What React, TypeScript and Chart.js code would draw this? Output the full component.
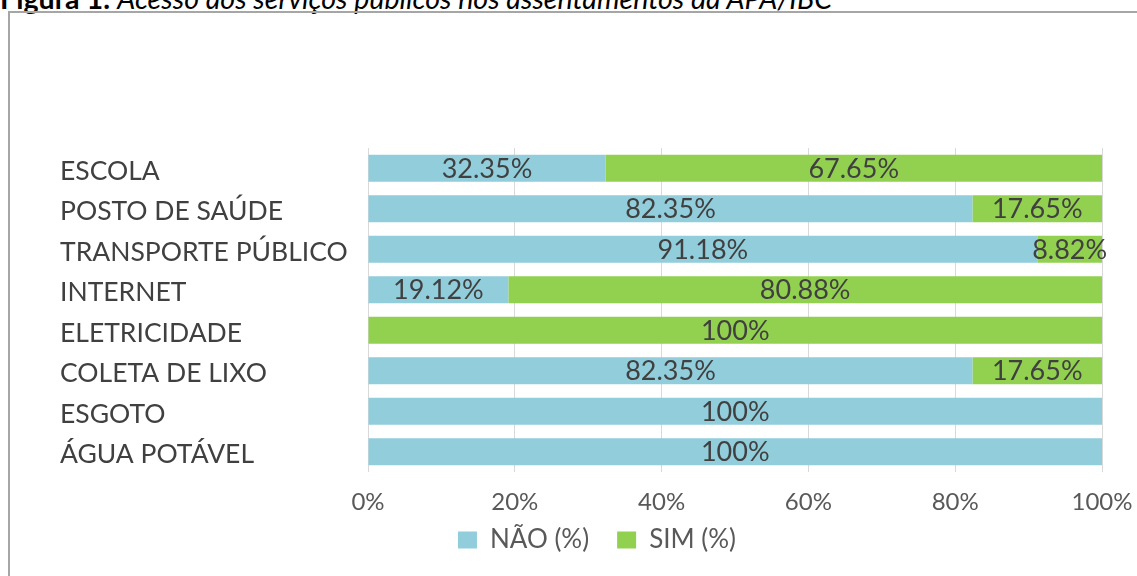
import React, { useEffect, useRef } from "react";
import { Chart, registerables } from "chart.js";

Chart.register(...registerables);

const categories = [
  "ESCOLA",
  "POSTO DE SAÚDE",
  "TRANSPORTE PÚBLICO",
  "INTERNET",
  "ELETRICIDADE",
  "COLETA DE LIXO",
  "ESGOTO",
  "ÁGUA POTÁVEL",
];
const naoValues = [32.35, 82.35, 91.18, 19.12, 0, 82.35, 100, 100];
const simValues = [67.65, 17.65, 8.82, 80.88, 100, 17.65, 0, 0];
const seriesNames = ["NÃO (%)", "SIM (%)"];
const xTicks = [0, 20, 40, 60, 80, 100];

const FONT = "Lato, 'Open Sans', sans-serif";
const CANVAS_W = 1127;
const CANVAS_H = 575;

const fmt = (v: number) => (Number.isInteger(v) ? `${v}%` : `${v.toFixed(2)}%`);

const dataLabelPlugin = {
  id: "segLabels",
  afterDatasetsDraw(chart: any) {
    const ctx = chart.ctx;
    ctx.save();
    ctx.font = `27px ${FONT}`;
    ctx.fillStyle = "#404040";
    ctx.textAlign = "center";
    ctx.textBaseline = "middle";
    chart.data.datasets.forEach((ds: any, di: number) => {
      const meta = chart.getDatasetMeta(di);
      meta.data.forEach((bar: any, i: number) => {
        const v = ds.data[i];
        if (!v) return;
        const x = (bar.base + bar.x) / 2;
        ctx.fillText(fmt(v), x, bar.y + 1);
      });
    });
    ctx.restore();
  },
};

// move the legend row up so it sits closer to the axis labels
const legendShiftPlugin = {
  id: "legendShift",
  afterLayout(chart: any) {
    const l = chart.legend;
    if (!l) return;
    const d = l.top - 486;
    l.top -= d;
    l.bottom -= d;
  },
};

export default function App() {
  const ref = useRef<HTMLCanvasElement>(null);
  useEffect(() => {
    if (!ref.current) return;
    const chart = new Chart(ref.current, {
      type: "bar",
      data: {
        labels: categories,
        datasets: [
          {
            label: seriesNames[0],
            data: naoValues,
            backgroundColor: "#92CDDC",
            barPercentage: 0.667,
            categoryPercentage: 1,
          },
          {
            label: seriesNames[1],
            data: simValues,
            backgroundColor: "#92D050",
            barPercentage: 0.667,
            categoryPercentage: 1,
          },
        ],
      },
      options: {
        indexAxis: "y",
        animation: false,
        responsive: false,
        maintainAspectRatio: false,
        layout: { padding: { left: 50, top: 135, right: 3, bottom: 6 } },
        plugins: {
          legend: {
            position: "bottom",
            labels: {
              boxWidth: 19,
              boxHeight: 17,
              padding: 28,
              color: "#595959",
              font: { family: FONT, size: 26 },
            },
          },
          tooltip: { enabled: false },
        },
        scales: {
          x: {
            stacked: true,
            min: 0,
            max: 100,
            afterBuildTicks: (s: any) => {
              s.ticks = xTicks.map((v) => ({ value: v }));
            },
            afterFit: (s: any) => {
              s.paddingRight = 35;
              s.height = 46;
            },
            ticks: {
              padding: 16,
              color: "#595959",
              font: { family: FONT, size: 24 },
              callback: (v: any) => `${v}%`,
            },
            grid: { color: "#D9D9D9", drawTicks: false },
            border: { display: false },
          },
          y: {
            stacked: true,
            afterFit: (s: any) => {
              s.width = 308;
            },
            ticks: {
              crossAlign: "far",
              labelOffset: 3,
              color: "#404040",
              font: { family: FONT, size: 26.5 },
            },
            grid: { display: false },
            border: { display: false },
          },
        },
      },
      plugins: [dataLabelPlugin, legendShiftPlugin],
    });
    return () => chart.destroy();
  }, []);

  return (
    <div
      style={{
        position: "fixed",
        left: 0,
        top: 0,
        width: 1137,
        height: 576,
        overflow: "hidden",
        background: "#fff",
      }}
    >
      <div
        style={{
          position: "absolute",
          left: 0,
          top: -15,
          whiteSpace: "nowrap",
          fontFamily: FONT,
          fontSize: 28.6,
          lineHeight: "26px",
          color: "#000",
        }}
      >
        <b>Figura 1.</b> <i>Acesso aos serviços públicos nos assentamentos da APA/IBC</i>
      </div>
      <div
        style={{
          position: "absolute",
          left: 8,
          top: 11,
          width: 1200,
          height: 700,
          borderLeft: "2px solid #A6A6A6",
          borderTop: "2px solid #A6A6A6",
        }}
      />
      <div style={{ position: "absolute", left: 10, top: 13, width: CANVAS_W, height: CANVAS_H }}>
        <canvas
          ref={ref}
          width={CANVAS_W}
          height={CANVAS_H}
          style={{ width: CANVAS_W, height: CANVAS_H, display: "block" }}
        />
      </div>
    </div>
  );
}
